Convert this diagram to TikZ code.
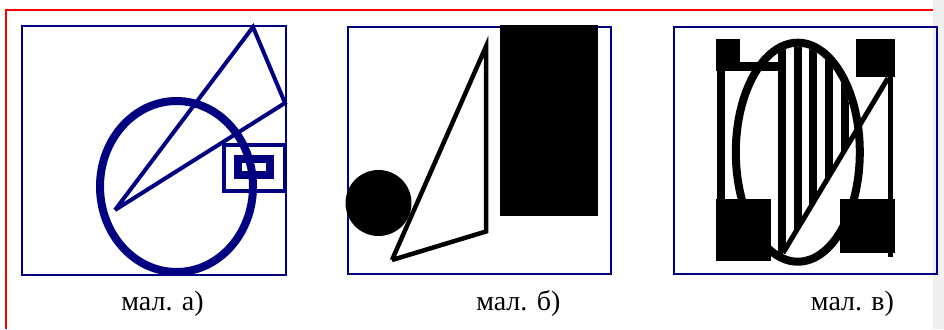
\documentclass[tikz,border=0pt]{standalone}
\usepackage{fontspec}
\setmainfont{Liberation Serif}
\definecolor{navyc}{RGB}{0,0,128}
\definecolor{redc}{RGB}{255,0,0}
\definecolor{grayc}{RGB}{240,240,240}
\tikzset{
  framebox/.style={draw=navyc, line width=2pt},
  caption/.style={anchor=base, inner sep=0pt, font=\fontsize{28}{30}\selectfont},
  navyline/.style={draw=navyc, line width=4pt},
  blkline/.style={draw=black, line width=4.5pt},
}
\begin{document}
\begin{tikzpicture}[x=1pt,y=-1pt]
\useasboundingbox (0,0) rectangle (944,329);
% page decorations
\fill[grayc] (933.3,0) rectangle (944,329);
\draw[redc, line width=2pt] (5.5,329) -- (5.5,10.5) -- (933.3,10.5);

% ---------- panel a ----------
\draw[framebox] (21.5,26) rectangle (285.5,274.5);
\draw[navyc, line width=8pt] (176.5,186.5) ellipse [x radius=76.5pt, y radius=85.5pt];
\draw[navyline, line join=miter] (115,210) -- (253,27) -- (285,103) -- (115,210);
\draw[navyline] (223.7,144.7) rectangle (284.7,190.7);
\draw[navyc, line width=8pt] (238,159) rectangle (270,175);
\node[caption] (capa) at (162.5,310) {мал. а)};

% ---------- panel b ----------
\draw[framebox] (347.5,27) rectangle (611,274);
\fill[black] (500,25) rectangle (598,216);
\fill[black] (378.5,203) circle [radius=33pt];
\draw[blkline, line join=miter] (392,260) -- (486,46.5) -- (486,231.5) -- (392,260);
\node[caption] (capb) at (518.3,310) {мал. б)};

% ---------- panel c ----------
\draw[framebox] (673.5,27) rectangle (937,274);
% ellipse outline
\draw[black, line width=8pt] (797.8,152.2) ellipse [x radius=62pt, y radius=109.5pt];
% hatching stripes inside ellipse, above the diagonal
\begin{scope}
  \clip (797.8,152.2) ellipse [x radius=58pt, y radius=105.5pt];
  \clip (700,0) -- (934.8,0) -- (754.8,300) -- (700,300) -- cycle;
  \foreach \sx in {777.7,793.5,809.2,825,840.8}
    \fill[black] (\sx,0) rectangle ++(8,300);
\end{scope}
% diagonal
\draw[black, line width=5pt] (888,78) -- (783,253);
% squares
\fill[black] (716,38.7) rectangle (740,62);
\fill[black] (856,38.7) rectangle (895,76.5);
\fill[black] (716,199) rectangle (771,261);
\fill[black] (840,198.5) rectangle (895,253.3);
% partial outline
\fill[black] (716,62) rectangle (778,71);
\fill[black] (716.7,62) rectangle (725,199);
\fill[black] (887.5,76) rectangle (893.3,257);
\node[caption] (capc) at (852.5,310) {мал. в)};
\end{tikzpicture}
\end{document}
